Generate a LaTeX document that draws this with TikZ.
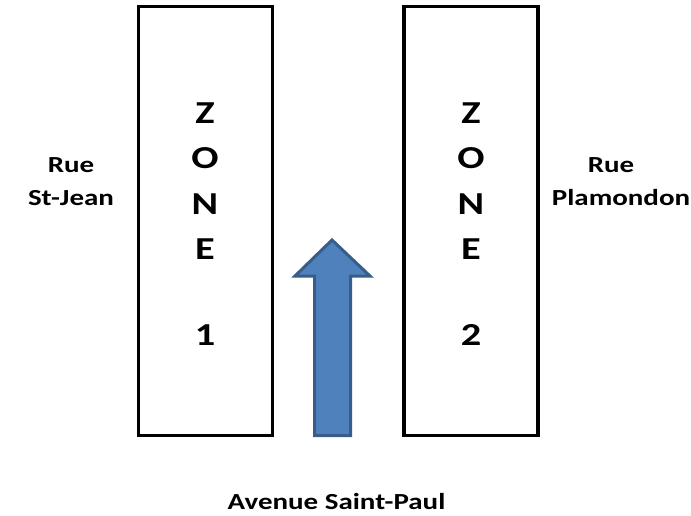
\documentclass[tikz,border=0pt]{standalone}
\usepackage{fontspec}
\setmainfont{Carlito}[FakeStretch=1.26]
\definecolor{arrowfill}{RGB}{79,129,189}
\definecolor{arrowline}{RGB}{56,93,138}
\begin{document}
\begin{tikzpicture}[x=1pt, y=-1pt,
        zone/.style={draw, line width=3.5pt, minimum width=134pt, minimum height=428.5pt, inner sep=0pt},
        lbl/.style={font=\fontsize{23}{23}\selectfont\bfseries, anchor=base, inner sep=0pt},
        big/.style={lbl, font=\fontsize{32}{32}\selectfont\bfseries}]

        \useasboundingbox (0,0) rectangle (691,516);

        % zone 1:
        \node(Z1) [zone] at (205.5,221) {};
        \node(Z1a)[big] at (205,124){Z};
        \node(Z1b)[big] at (205,169){O};
        \node(Z1c)[big] at (205,214){N};
        \node(Z1d)[big] at (205,259){E};
        \node(Z1e)[big] at (205,345){1};

        % zone 2:
        \node(Z2) [zone] at (471,221) {};
        \node(Z2a)[big] at (471,124){Z};
        \node(Z2b)[big] at (471,169){O};
        \node(Z2c)[big] at (471,214){N};
        \node(Z2d)[big] at (471,259){E};
        \node(Z2e)[big] at (471,345){2};

        % streets:
        \node(RSJ)[lbl] at (71,172){Rue};
        \node(SJ) [lbl] at (71,205){St-Jean};
        \node(RPL)[lbl] at (611,172){Rue};
        \node(PL) [lbl] at (621,205){Plamondon};
        \node(ASP)[lbl] at (336.5,509){Avenue Saint-Paul};

        % arrow:
        \draw[line width=3pt, draw=arrowline, fill=arrowfill, line join=miter]
            (332,240) -- (370,276) -- (350.5,276) -- (350.5,435.5)
            -- (314.5,435.5) -- (314.5,276) -- (295,276) -- cycle;

    \end{tikzpicture}
\end{document}
